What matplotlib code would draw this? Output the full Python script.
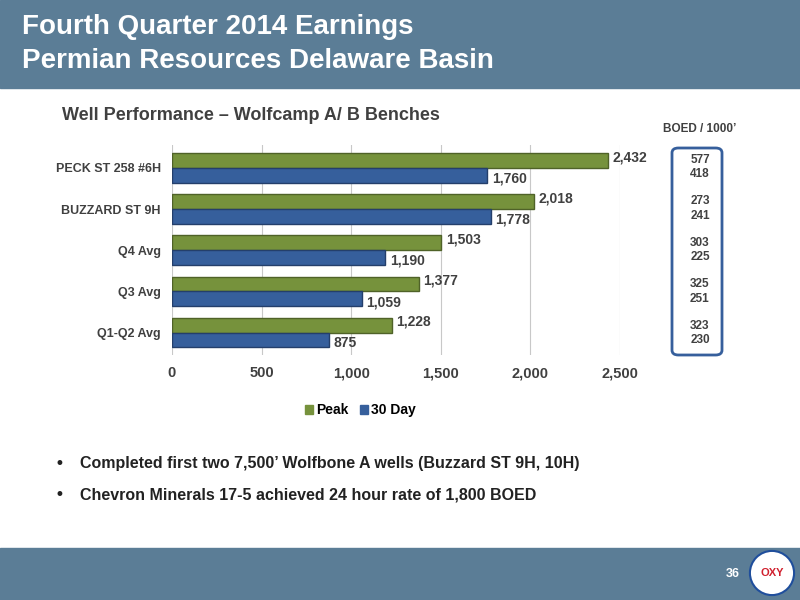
import matplotlib.pyplot as plt
from matplotlib.patches import Rectangle, FancyBboxPatch, Circle, Patch

# Well data
wells = ["Q1-Q2 Avg", "Q3 Avg", "Q4 Avg", "BUZZARD ST 9H", "PECK ST 258 #6H"]
peak = [1228, 1377, 1503, 2018, 2432]
day30 = [875, 1059, 1190, 1778, 1760]
boed_peak = [323, 325, 303, 273, 577]
boed_30 = [230, 251, 225, 241, 418]

GREEN = "#76923c"
BLUE = "#365f9c"
BAND = "#5b7d96"
FONT = "Liberation Sans"

fig = plt.figure(figsize=(8, 6), dpi=100)

# header and footer bands
fig.patches.append(Rectangle((0, 1 - 88 / 600), 1, 88 / 600, transform=fig.transFigure,
                             color=BAND, zorder=-5))
fig.patches.append(Rectangle((0, 0), 1, 52 / 600, transform=fig.transFigure,
                             color=BAND, zorder=-5))
fig.text(0.027, 0.955, "Fourth Quarter 2014 Earnings", color="white", fontsize=20,
         fontweight="bold", va="center", family=FONT)
fig.text(0.027, 0.898, "Permian Resources Delaware Basin", color="white", fontsize=20,
         fontweight="bold", va="center", family=FONT)
fig.text(0.077, 0.808, "Well Performance \u2013 Wolfcamp A/ B Benches", color="#404040",
         fontsize=13, fontweight="bold", va="center", family=FONT)
fig.text(0.875, 0.785, "BOED / 1000\u2019", color="#404040", fontsize=8.5,
         fontweight="bold", ha="center", va="center", family=FONT)

ax = fig.add_axes([0.215, 0.408, 0.56, 0.35])
y = range(len(wells))
h = 0.36
for i in y:
    ax.barh(i + h / 2, peak[i], height=h, color=GREEN, edgecolor="#4f6228", linewidth=1, zorder=3)
    ax.barh(i - h / 2, day30[i], height=h, color=BLUE, edgecolor="#243f6b", linewidth=1, zorder=3)
    ax.text(peak[i] + 25, i + h / 2 + 0.08, f"{peak[i]:,}", fontsize=10, fontweight="bold",
            color="#404040", va="center", family=FONT)
    ax.text(day30[i] + 25, i - h / 2 - 0.08, f"{day30[i]:,}", fontsize=10, fontweight="bold",
            color="#404040", va="center", family=FONT)
ax.set_xlim(0, 2500)
ax.set_ylim(-0.55, 4.55)
ax.set_yticks(list(y))
ax.set_yticklabels(wells, fontsize=9, fontweight="bold", color="#404040", family=FONT)
ax.set_xticks(range(0, 2501, 500))
ax.set_xticklabels([f"{v:,}" for v in range(0, 2501, 500)], fontsize=10.5,
                   fontweight="bold", color="#404040", family=FONT)
ax.tick_params(length=0, pad=8)
ax.grid(axis="x", color="#c8c8c8", linewidth=0.8, zorder=0)
for s in ax.spines.values():
    s.set_visible(False)
ax.legend(handles=[Patch(color=GREEN, label="Peak"), Patch(color=BLUE, label="30 Day")],
          loc="upper center", bbox_to_anchor=(0.42, -0.17), ncol=2, frameon=False,
          handlelength=0.6, handleheight=0.6, handletextpad=0.2, columnspacing=0.8,
          prop={"family": FONT, "weight": "bold", "size": 10})

# BOED box
box = FancyBboxPatch((672 / 800, 1 - 355 / 600), 50 / 800, 207 / 600,
                     boxstyle="round,pad=0,rounding_size=0.008", transform=fig.transFigure,
                     facecolor="white", edgecolor=BLUE, linewidth=2)
fig.patches.append(box)
for i in y:
    yc = 1 - (167 + (4 - i) * 41.5) / 600
    fig.text(0.875, yc + 0.012, str(boed_peak[i]), fontsize=8.5, fontweight="bold",
             color="#404040", ha="center", va="center", family=FONT)
    fig.text(0.875, yc - 0.012, str(boed_30[i]), fontsize=8.5, fontweight="bold",
             color="#404040", ha="center", va="center", family=FONT)

# bullets
for yy, txt in ((0.227, "Completed first two 7,500\u2019 Wolfbone A wells (Buzzard ST 9H, 10H)"),
                (0.175, "Chevron Minerals 17-5 achieved 24 hour rate of 1,800 BOED")):
    fig.text(0.068, yy, "\u2022", fontsize=12, va="center", color="#222222")
    fig.text(0.1, yy, txt, fontsize=11.5, fontweight="bold", va="center", color="#222222",
             family=FONT)

# footer page number and logo
fig.text(0.925, 0.043, "36", color="white", fontsize=9, fontweight="bold", ha="right",
         va="center", family=FONT)
logo = fig.add_axes([0.935, 0.005, 0.06, 0.08], zorder=5)
logo.patch.set_visible(False)
logo.axis("off")
logo.set_xlim(0, 1)
logo.set_ylim(0, 1)
logo.set_aspect("equal")
logo.add_patch(Circle((0.5, 0.5), 0.46, facecolor="white", edgecolor="#1f4e9c", linewidth=1.5))
logo.text(0.5, 0.5, "OXY", color="#d0202e", fontsize=8, fontweight="bold",
          ha="center", va="center", family=FONT)

fig.savefig("out.png", dpi=100)
